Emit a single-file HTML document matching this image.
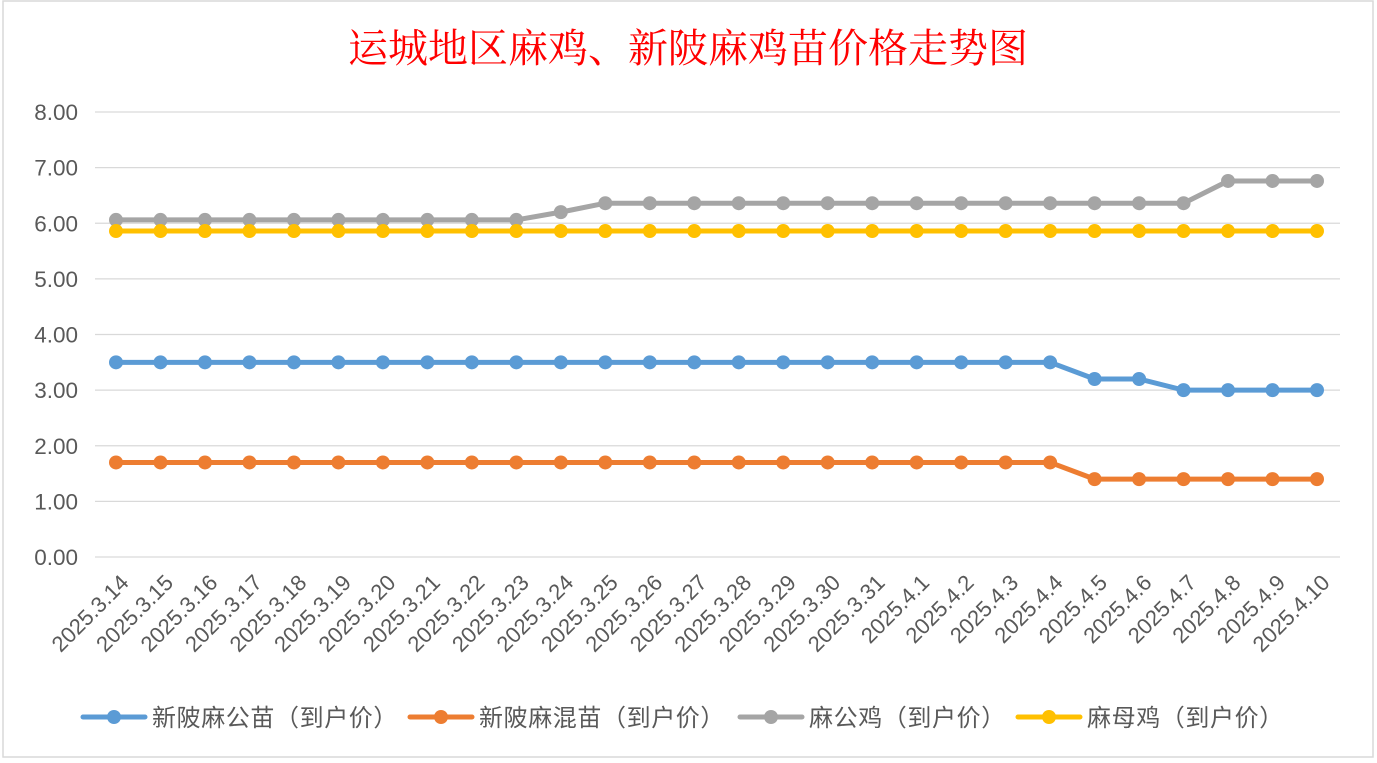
<!DOCTYPE html>
<html><head><meta charset="utf-8"><style>
body{margin:0;background:#fff;}
svg{display:block;font-family:"Liberation Sans","Noto Sans CJK SC",sans-serif;}
</style></head><body>
<svg id="c" width="1377" height="763" xmlns="http://www.w3.org/2000/svg">
<rect x="3" y="1" width="1370" height="756" fill="#fff" stroke="#d9d9d9" stroke-width="1.5"/>
<text x="688" y="62" text-anchor="middle" font-size="40" fill="#ff0000" font-family="'Liberation Serif','Noto Serif CJK SC',serif">运城地区麻鸡、新陂麻鸡苗价格走势图</text>
<g id="grid"></g><g id="yt"></g><g id="xt"></g><g id="series"></g><g id="legend"></g>
</svg>
<script>
const categories=["2025.3.14","2025.3.15","2025.3.16","2025.3.17","2025.3.18","2025.3.19","2025.3.20","2025.3.21","2025.3.22","2025.3.23","2025.3.24","2025.3.25","2025.3.26","2025.3.27","2025.3.28","2025.3.29","2025.3.30","2025.3.31","2025.4.1","2025.4.2","2025.4.3","2025.4.4","2025.4.5","2025.4.6","2025.4.7","2025.4.8","2025.4.9","2025.4.10"];
const maleChick=[3.5,3.5,3.5,3.5,3.5,3.5,3.5,3.5,3.5,3.5,3.5,3.5,3.5,3.5,3.5,3.5,3.5,3.5,3.5,3.5,3.5,3.5,3.2,3.2,3.0,3.0,3.0,3.0];
const mixedChick=[1.7,1.7,1.7,1.7,1.7,1.7,1.7,1.7,1.7,1.7,1.7,1.7,1.7,1.7,1.7,1.7,1.7,1.7,1.7,1.7,1.7,1.7,1.4,1.4,1.4,1.4,1.4,1.4];
const rooster=[6.06,6.06,6.06,6.06,6.06,6.06,6.06,6.06,6.06,6.06,6.2,6.36,6.36,6.36,6.36,6.36,6.36,6.36,6.36,6.36,6.36,6.36,6.36,6.36,6.36,6.76,6.76,6.76];
const hen=[5.86,5.86,5.86,5.86,5.86,5.86,5.86,5.86,5.86,5.86,5.86,5.86,5.86,5.86,5.86,5.86,5.86,5.86,5.86,5.86,5.86,5.86,5.86,5.86,5.86,5.86,5.86,5.86];
const yTicks=[0,1,2,3,4,5,6,7,8];
const seriesNames=["新陂麻公苗（到户价）","新陂麻混苗（到户价）","麻公鸡（到户价）","麻母鸡（到户价）"];
const colors=["#5b9bd5","#ed7d31","#a5a5a5","#ffc000"];
const NS="http://www.w3.org/2000/svg";
const x0=116,x1=1317,y0=557,yTop=112;
const xs=i=>x0+i*(x1-x0)/(categories.length-1);
const ys=v=>y0-v*(y0-yTop)/8;
function mk(t,a,p){const e=document.createElementNS(NS,t);for(const k in a)e.setAttribute(k,a[k]);p.appendChild(e);return e;}
const grid=document.getElementById('grid'),yt=document.getElementById('yt'),xt=document.getElementById('xt');
yTicks.forEach(v=>{
 const l=mk('line',{x1:95,x2:1340,y1:ys(v),y2:ys(v),stroke:'#d9d9d9','stroke-width':1.3},grid);
 
 
 const t=mk('text',{x:78,y:ys(v)+8,'text-anchor':'end','font-size':22.5,fill:'#595959'},yt);
 t.textContent=v.toFixed(2);
 
 
});
categories.forEach((c,i)=>{
 const x=xs(i)+14,y=584;
 const t=mk('text',{x:x,y:y,'text-anchor':'end','font-size':22,fill:'#595959',transform:`rotate(-45 ${x} ${y})`},xt);
 t.textContent=c;
 
 
});
const sg=document.getElementById('series');
[maleChick,mixedChick,rooster,hen].forEach((d,s)=>{
 const g=mk('g',{},sg);
 
 
 const p=mk('polyline',{points:d.map((v,i)=>xs(i)+','+ys(v)).join(' '),fill:'none',stroke:colors[s],'stroke-width':5,'stroke-linejoin':'round'},g);
 
 
 d.forEach((v,i)=>{
  const m=mk('circle',{cx:xs(i),cy:ys(v),r:7,fill:colors[s]},g);
  
  
 });
});
const lg=document.getElementById('legend');
const lx=[83,410,740,1018];
seriesNames.forEach((n,s)=>{
 const g=mk('g',{},lg);
 
 
 mk('line',{x1:lx[s],x2:lx[s]+62,y1:717,y2:717,stroke:colors[s],'stroke-width':5,'stroke-linecap':'round'},g);
 mk('circle',{cx:lx[s]+31,cy:717,r:7,fill:colors[s]},g);
 const t=mk('text',{x:lx[s]+69,y:726,'font-size':24,'letter-spacing':0.6,fill:'#595959'},g);
 t.textContent=n;
});
</script>
</body></html>
